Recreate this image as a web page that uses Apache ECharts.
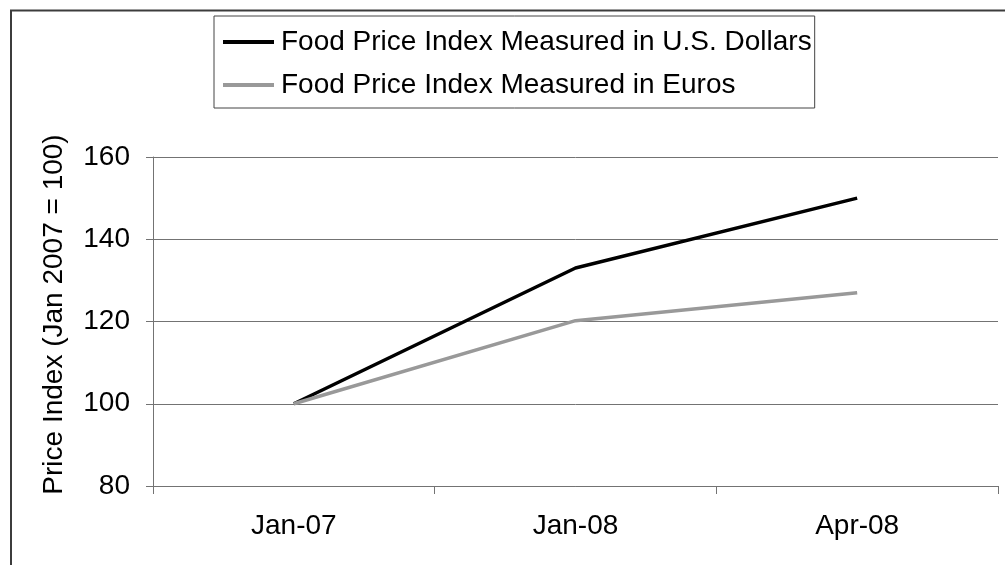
<!DOCTYPE html>
<html>
<head>
    <meta charset="utf-8">
    <title>Food Price Index</title>
    <script src="https://cdn.jsdelivr.net/npm/echarts@6/dist/echarts.min.js"></script>
    <style>
        html, body { margin: 0; padding: 0; background: #fff; }
        #chart-container { width: 1005px; height: 565px; }
    </style>
</head>
<body>
<div id="chart-container"></div>
<script>
    const chartDom = document.getElementById('chart-container');
    const myChart = echarts.init(chartDom);

    // data
    const periods = ['Jan-07', 'Jan-08', 'Apr-08'];
    const usdIndex = [100, 133, 150];
    const eurIndex = [100, 120.2, 127];
    const seriesNames = ['Food Price Index Measured in U.S. Dollars', 'Food Price Index Measured in Euros'];

    const font = 'Liberation Sans, Arial, sans-serif';
    const gridGray = '#737373';

    const option = {
        animation: false,
        backgroundColor: '#fff',
        textStyle: { fontFamily: font },
        graphic: [{
            type: 'rect',
            shape: { x: 11, y: 10.5, width: 1100, height: 700 },
            style: { fill: 'none', stroke: '#3c3c3c', lineWidth: 2 },
            silent: true
        }],
        legend: {
            orient: 'vertical',
            left: 214,
            top: 16,
            padding: [12, 3, 9, 9],
            itemGap: 15,
            itemWidth: 51,
            itemHeight: 4,
            icon: 'rect',
            borderColor: '#444',
            borderWidth: 1,
            borderRadius: 0,
            backgroundColor: '#fff',
            textStyle: { fontSize: 28, color: '#000', fontFamily: font, padding: [0, 0, 0, 2] },
            data: seriesNames
        },
        grid: {
            left: 153,
            right: 7,
            top: 157,
            bottom: 79,
            containLabel: false,
            outerBoundsMode: 'none'
        },
        xAxis: {
            type: 'category',
            data: periods,
            boundaryGap: true,
            axisLine: { show: true, lineStyle: { color: gridGray, width: 1 } },
            axisTick: { show: true, length: 8, lineStyle: { color: gridGray } },
            axisLabel: { fontSize: 28, color: '#000', margin: 26, fontFamily: font },
            splitLine: { show: false }
        },
        yAxis: {
            type: 'value',
            min: 80,
            max: 160,
            interval: 20,
            name: 'Price Index (Jan 2007 = 100)',
            nameLocation: 'middle',
            nameGap: 85,
            nameTextStyle: { fontSize: 28, color: '#000', fontFamily: font, padding: [0, 0, 0, 14] },
            axisLine: { show: true, lineStyle: { color: gridGray, width: 1 } },
            axisTick: { show: true, length: 7, lineStyle: { color: gridGray } },
            axisLabel: { fontSize: 28, color: '#000', margin: 23, fontFamily: font },
            splitLine: { show: true, lineStyle: { color: gridGray, width: 1 } }
        },
        series: [
            {
                name: seriesNames[0],
                type: 'line',
                data: usdIndex,
                symbol: 'none',
                lineStyle: { color: '#000', width: 3.5 },
                itemStyle: { color: '#000' }
            },
            {
                name: seriesNames[1],
                type: 'line',
                data: eurIndex,
                symbol: 'none',
                lineStyle: { color: '#999', width: 3.5 },
                itemStyle: { color: '#999' }
            }
        ]
    };

    myChart.setOption(option);

    window.addEventListener('resize', function() {
        myChart.resize();
    });
</script>
</body>
</html>
